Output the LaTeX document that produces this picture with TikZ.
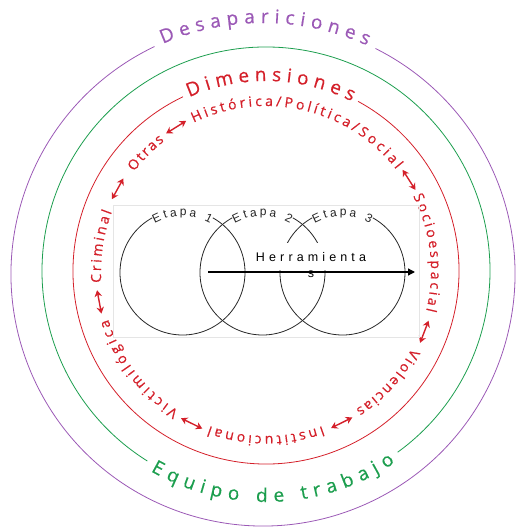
\documentclass[tikz,border=0pt]{standalone}
\usepackage{fontspec}
\setmainfont{Liberation Sans}
\newfontfamily\ringfont[FakeBold=0.5]{Open Sans}
\usepackage{tikz}
\usetikzlibrary{calc}
\usetikzlibrary{arrows.meta}
\usetikzlibrary{decorations.text}
\definecolor{desap}{RGB}{155,89,182}
\definecolor{equipo}{RGB}{28,158,78}
\definecolor{dimred}{RGB}{212,32,42}
\newcommand\outerfont{\ringfont\fontsize{19}{19}\selectfont}
\newcommand\dimfont{\ringfont\fontsize{14}{14}\selectfont\color{dimred}}
\newcommand\stagefont{\fontsize{12}{12}\selectfont\color{black!85}}
\newcommand\toolfont{\fontsize{12.5}{14}\selectfont\addfontfeature{LetterSpace=33}}
% text along an arc: center, radius, from, to, raise, text
\newcommand\arctext[6]{\path[decorate, decoration={text along path, text align=fit to path, raise=#5, text={#6}}] (#1) ++(#3:#2) arc[start angle=#3, end angle=#4, radius=#2];}
\tikzstyle{ring}=[line width=0.8pt]
\tikzstyle{stage}=[draw=black!85, line width=0.8pt]
\tikzstyle{dimarrow}=[draw=dimred, line width=1.4pt, {Stealth[length=6.5pt,width=7.5pt]}-{Stealth[length=6.5pt,width=7.5pt]}]
\tikzstyle{tool}=[font=\toolfont, inner xsep=1pt, inner ysep=1pt, anchor=base]

\begin{document}
\begin{tikzpicture}[x=1pt, y=1pt]
    \useasboundingbox (-266,-258) rectangle (249,271);
    \coordinate (c) at (0,0);
    \coordinate (cp) at (-3,-3);
    \coordinate (s1) at (-83.5,-1.5);
    \coordinate (s2) at (-3.5,-1.5);
    \coordinate (s3) at (76.5,-1.5);

    % outer rings
    \draw[ring, desap] (cp) ++(115.5:252) arc[start angle=115.5, end angle=423.5, radius=252];
    \arctext{cp}{252}{113.5}{65.5}{-1pt}{|\outerfont\color{desap}|Desapariciones}
    \draw[ring, equipo] (c) ++(-54:224) arc[start angle=-54, end angle=238, radius=224];
    \arctext{c}{224}{240}{304}{-7pt}{|\outerfont\color{equipo}|Equipo de trabajo}
    \draw[ring, dimred] (c) ++(115.5:193) arc[start angle=115.5, end angle=421.5, radius=193];
    \arctext{c}{193}{113.8}{63.2}{-3pt}{|\outerfont\color{dimred}|Dimensiones}

    % dimensions inside the red ring
    \arctext{c}{165}{143}{128}{0pt}{|\dimfont|Otras}
    \arctext{c}{165}{116}{38}{0pt}{|\dimfont|Histórica/Política/Social}
    \arctext{c}{165}{27}{-14}{0pt}{|\dimfont|Socioespacial}
    \arctext{c}{165}{-28}{-57}{0pt}{|\dimfont|Violencias}
    \arctext{c}{165}{-70}{-110}{0pt}{|\dimfont|Institucional}
    \arctext{c}{165}{-122}{-163}{0pt}{|\dimfont|Victimilógica}
    \arctext{c}{165}{184}{159}{0pt}{|\dimfont|Criminal}
    \foreach \a in {151,122,32.5,-21,-63.5,-116,-169.5}
        \draw[dimarrow] (\a+4:170) -- (\a-4:170);

    % stages
    \draw[black!10, line width=0.5pt] (-153,66) rectangle (153,-66);
    \foreach \s/\n in {s1/1, s2/2, s3/3} {
        \draw[stage] (\s) ++(119:62.5) arc[start angle=119, end angle=421, radius=62.5];
        \arctext{\s}{62.5}{119}{61}{-6pt}{|\stagefont|Etapa \n}
    }
    \node[tool, fill=white, text height=18pt, text depth=7pt] (herr) at (45,9) {Herramienta};
    \node[tool] (herrs) at (45,-7) {s};
    \coordinate (tstart) at (-58,-1);
    \coordinate (tend) at (149,-1);
    \draw[line width=1.3pt, -{Triangle[length=7pt,width=7pt]}] (tstart) -- (tend);
\end{tikzpicture}
\end{document}
